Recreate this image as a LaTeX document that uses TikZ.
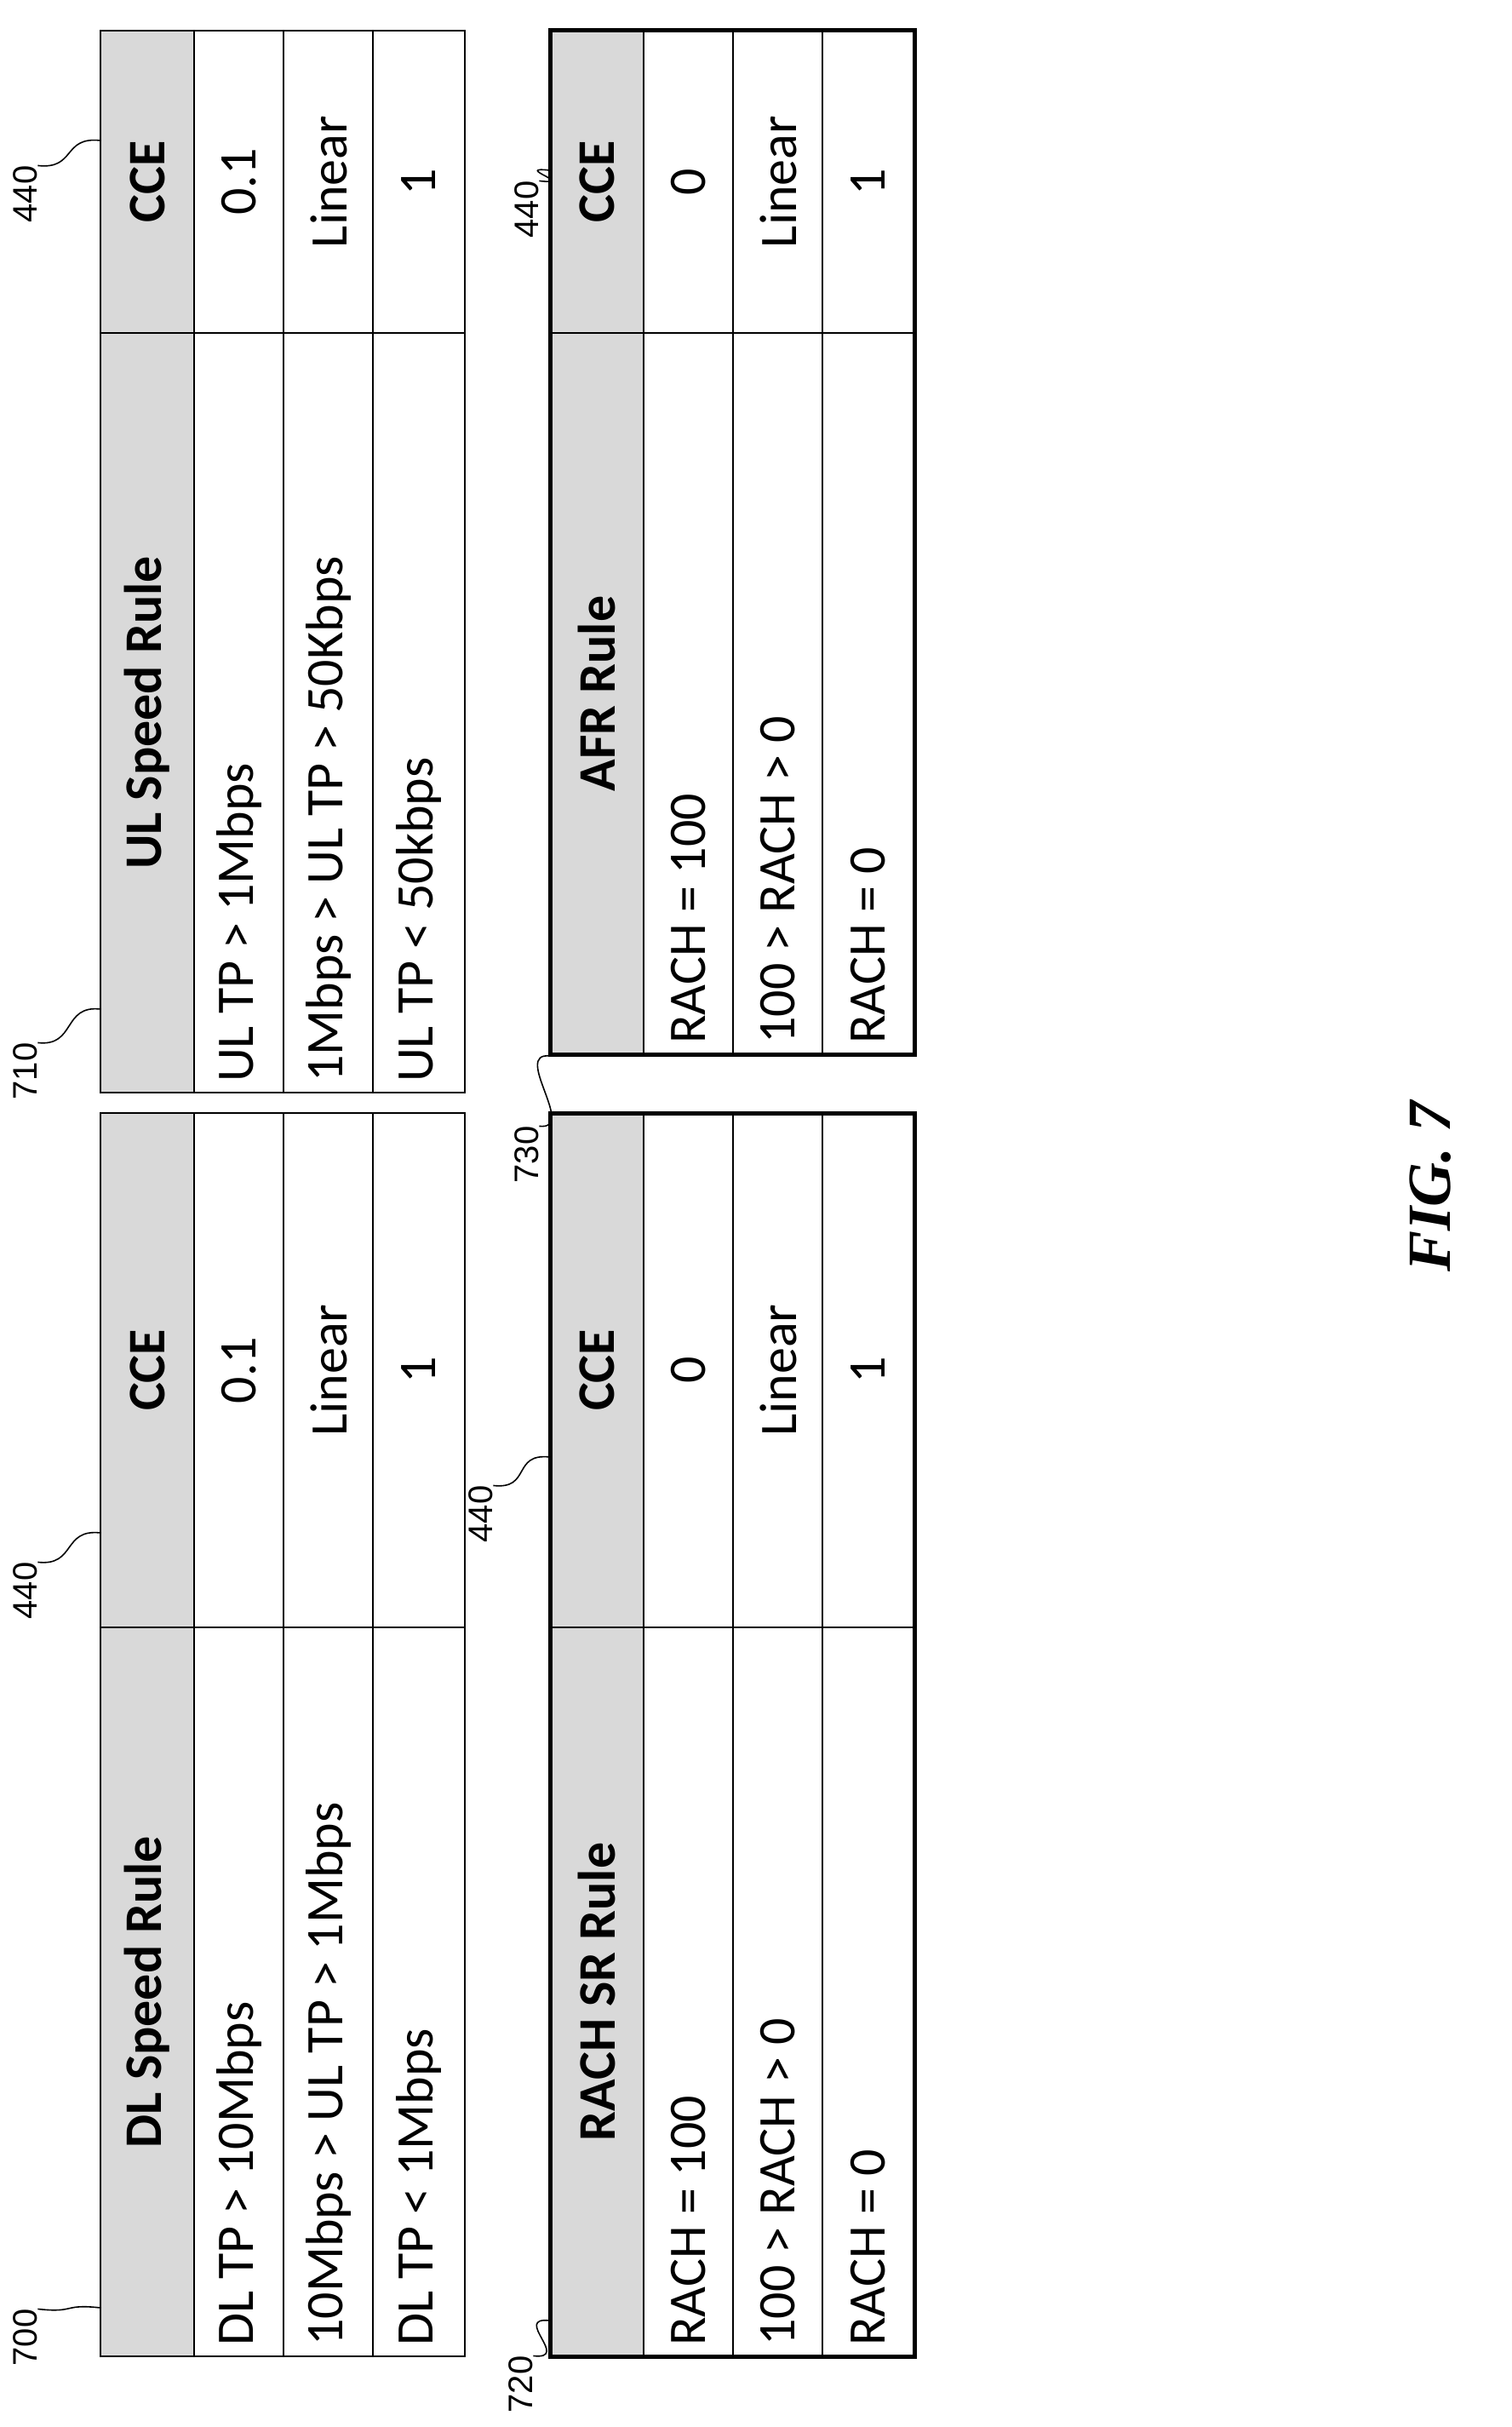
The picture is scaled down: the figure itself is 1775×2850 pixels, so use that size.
\documentclass[tikz,border=0pt]{standalone}
\usepackage{fontspec}
\setmainfont{Carlito}
\newfontfamily\figfont{Liberation Serif}
\newfontfamily\labfont{Liberation Sans}
\begin{document}
\begin{tikzpicture}[x=1pt,y=-1pt,
  celltxt/.style={rotate=90,inner sep=0pt,font=\fontsize{62}{68}\selectfont},
  hdrtxt/.style={celltxt,font=\fontsize{62}{68}\selectfont\bfseries},
  reflab/.style={rotate=90,inner sep=0pt,font=\labfont\fontsize{40}{44}\selectfont},
  leader/.style={line width=1.6pt},
  grid/.style={line width=2pt},
  frame/.style={line width=2.5pt}]
\useasboundingbox (0,0) rectangle (1775,2850);
\newcommand\rtable[9]{%
  \fill[gray!30] (#2,#3) rectangle ({#2+110},#5);
  \foreach \dx in {110,215,320} \draw[grid] ({#2+\dx},#3) -- ({#2+\dx},#5);
  \draw[grid] (#2,#4) -- ({#2+428},#4);
  \draw[line width=#6] (#2,#3) rectangle ({#2+428},#5);
  \node[hdrtxt] (#1h) at ({#2+55},{(#4+#5)/2}) {#7};
  \node[hdrtxt] (#1hc) at ({#2+55},{(#3+#4)/2}) {CCE};
  \foreach \r/\cx/\t/\v in {#8}{
    \node[celltxt,anchor=west] (#1r\r) at ({#2+\cx},{#5-12}) {\t};
    \node[celltxt] (#1v\r) at ({#2+\cx},{(#3+#4)/2}) {\v};
  }%
  #9%
}
\rtable{a}{118}{1307}{1911}{2767}{2pt}{DL Speed Rule}{1/163/DL TP > 10Mbps/0.1, 2/268/10Mbps > UL TP > 1Mbps/Linear, 3/374/DL TP < 1Mbps/1}{}
\rtable{b}{118}{36}{391}{1283}{2pt}{UL Speed Rule}{1/163/UL TP > 1Mbps/0.1, 2/268/1Mbps > UL TP > 50Kbps/Linear, 3/374/UL TP < 50kbps/1}{}
\rtable{c}{646}{1307}{1911}{2767}{5pt}{RACH SR Rule}{1/163/RACH = 100/0, 2/268/100 > RACH > 0/Linear, 3/374/RACH = 0/1}{}
\rtable{d}{646}{36}{391}{1238}{5pt}{AFR Rule}{1/163/RACH = 100/0, 2/268/100 > RACH > 0/Linear, 3/374/RACH = 0/1}{}
\node[reflab] (l700) at (30,2745) {700};
\node[reflab] (l440a) at (30,1868) {440};
\node[reflab] (l720) at (612,2800) {720};
\node[reflab] (l440c) at (565,1778) {440};
\node[reflab] (l710) at (30,1258) {710};
\node[reflab] (l440b) at (30,228) {440};
\node[reflab] (l730) at (619,1356) {730};
\node[reflab] (l440d) at (619,246) {440};
\coordinate (t700) at (118,2710);
\coordinate (t440a) at (118,1800);
\coordinate (t720) at (646,2725);
\coordinate (t440c) at (646,1711);
\coordinate (t710) at (118,1185);
\coordinate (t440b) at (118,165);
\coordinate (t730) at (646,1240);
\coordinate (t440d) at (646,200);
\foreach \n in {700,440a,720,440c,710,440b,730,440d}
  \draw[leader] (l\n.south east) .. controls ++(45,5) and ++(-45,-5) .. (t\n);
\node[rotate=90,font=\figfont\fontsize{72}{80}\selectfont\bfseries\itshape] (fig) at (1680,1393) {FIG. 7};
\end{tikzpicture}
\end{document}
